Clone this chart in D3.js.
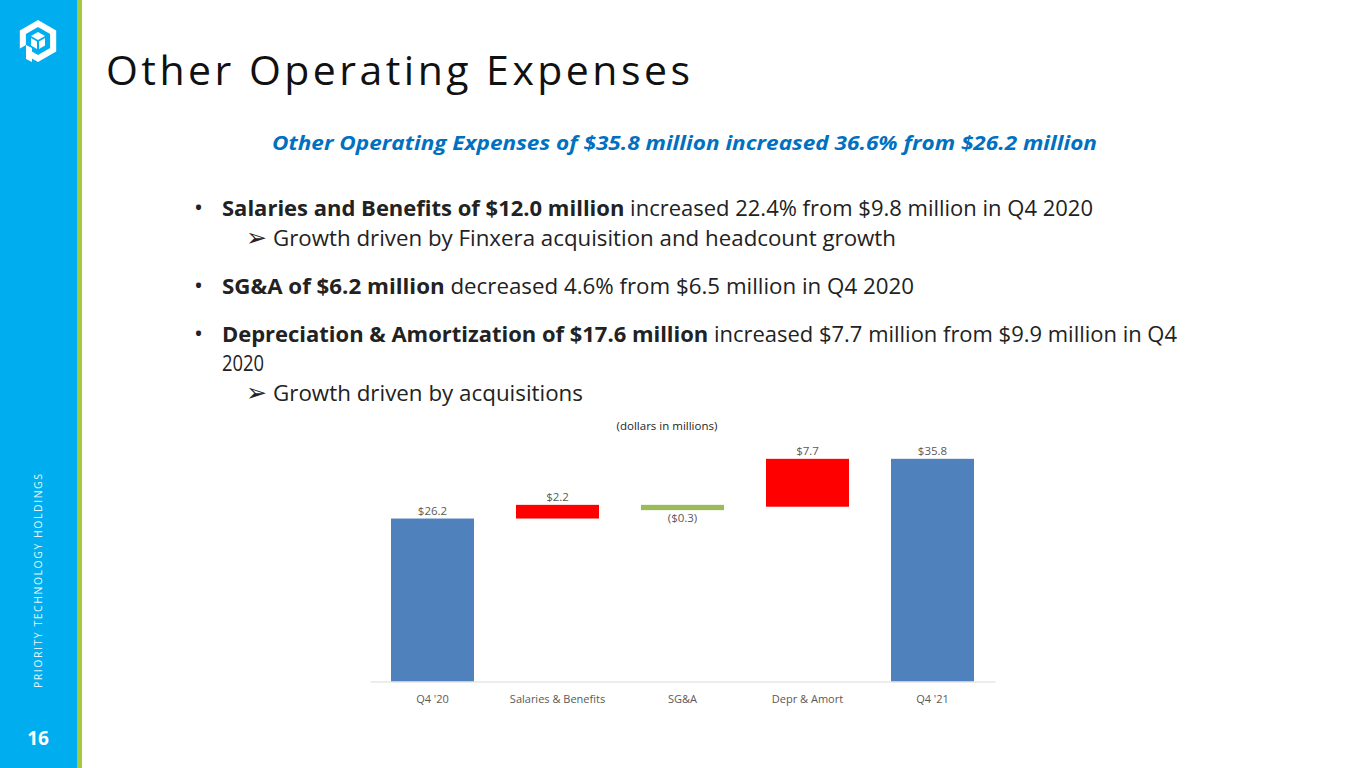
<!DOCTYPE html>
<html>
<head>
<meta charset="utf-8">
<script src="https://cdn.jsdelivr.net/npm/d3@7/dist/d3.min.js"></script>
<style>
  html, body { margin: 0; padding: 0; background: #fff; }
  svg { display: block; }
</style>
</head>
<body>
<svg id="slide" width="1365" height="768"></svg>
<script>
// ---- Data ----
const categories = ["Q4 '20", "Salaries & Benefits", "SG&A", "Depr & Amort", "Q4 '21"];
const values = [26.2, 2.2, -0.3, 7.7, 35.8];
const kinds = ["total", "increase", "decrease", "increase", "total"];
const valueLabels = ["$26.2", "$2.2", "($0.3)", "$7.7", "$35.8"];

const titleText = "Other Operating Expenses";
const subtitleText = "Other Operating Expenses of $35.8 million increased 36.6% from $26.2 million";
const unitText = "(dollars in millions)";
const sideText = "PRIORITY TECHNOLOGY HOLDINGS";
const pageNumber = "16";

// bullet lines: [type, segments[[text,bold]]]
const bulletLines = [
  ["bullet", [["Salaries and Benefits of $12.0 million", true], [" increased 22.4% from $9.8 million in Q4 2020", false]]],
  ["arrow", [["Growth driven by Finxera acquisition and headcount growth", false]]],
  ["bullet", [["SG&A of $6.2 million", true], [" decreased 4.6% from $6.5 million in Q4 2020", false]]],
  ["bullet", [["Depreciation & Amortization of $17.6 million", true], [" increased $7.7 million from $9.9 million in Q4", false]]],
  ["cont", [["2020", false]]],
  ["arrow", [["Growth driven by acquisitions", false]]]
];

// ---- Layout ----
const svg = d3.select("#slide");
const FONT = "'Open Sans', 'Noto Sans', sans-serif";

// sidebar
svg.append("rect").attr("x", 0).attr("y", 0).attr("width", 77).attr("height", 768).attr("fill", "#00AEEF");
svg.append("rect").attr("x", 77).attr("y", 0).attr("width", 5).attr("height", 768).attr("fill", "#A6C83C");

// logo
const logo = svg.append("g").attr("transform", "translate(38,41)");
function hexPath(r) {
  const pts = d3.range(6).map(i => {
    const a = Math.PI / 180 * (60 * i - 90);
    return [r * Math.cos(a), r * Math.sin(a)];
  });
  return "M" + pts.map(p => p.join(",")).join("L") + "Z";
}
logo.append("path").attr("d", hexPath(21) + hexPath(14)).attr("fill", "#fff").attr("fill-rule", "evenodd");
logo.append("path").attr("d", "M-19,8 L-12,4 L-12,22 L-19,22 Z").attr("fill", "#00AEEF");
logo.append("path").attr("d", "M-12,4 L-6,7 L-6,21 L-12,18 Z").attr("fill", "#fff");
logo.append("path").attr("d", "M0,-9 L7,-5 L0,-1 L-7,-5 Z").attr("fill", "#fff");
logo.append("path").attr("d", "M-7,-3 L-1,0.5 L-1,8 L-7,4.5 Z").attr("fill", "#fff");
logo.append("path").attr("d", "M7,-3 L1,0.5 L1,8 L7,4.5 Z").attr("fill", "#fff");

// side vertical text
svg.append("text")
  .attr("transform", "translate(42,581) rotate(-90)")
  .attr("text-anchor", "middle")
  .attr("font-family", FONT).attr("font-size", 10.5)
  .attr("fill", "#E6F6FD")
  .attr("textLength", 214).attr("lengthAdjust", "spacing")
  .text(sideText);

svg.append("text")
  .attr("x", 38).attr("y", 745)
  .attr("text-anchor", "middle")
  .attr("font-family", FONT).attr("font-size", 19).attr("font-weight", "bold")
  .attr("fill", "#fff")
  .text(pageNumber);

// title
svg.append("text")
  .attr("x", 106).attr("y", 85)
  .attr("font-family", FONT).attr("font-size", 41)
  .attr("fill", "#111")
  .attr("textLength", 584).attr("lengthAdjust", "spacing")
  .text(titleText);

// subtitle
svg.append("text")
  .attr("x", 272).attr("y", 150)
  .attr("font-family", FONT).attr("font-size", 19.5)
  .attr("font-weight", "bold").attr("font-style", "italic")
  .attr("fill", "#0070C0")
  .attr("textLength", 825).attr("lengthAdjust", "spacingAndGlyphs")
  .text(subtitleText);

// bullets
const lineBaselines = [216, 246, 294, 342, 371, 401];
const lineWidths = [871, 623, 692, 955, 42, 310];
bulletLines.forEach((ln, i) => {
  const [type, segs] = ln;
  const y = lineBaselines[i];
  const x = type === "arrow" ? 273 : 222;
  if (type === "bullet") {
    svg.append("text").attr("x", 194).attr("y", y)
      .attr("font-family", FONT).attr("font-size", 24).attr("fill", "#222").text("•");
  }
  if (type === "arrow") {
    svg.append("text").attr("x", 246).attr("y", y)
      .attr("font-family", "'DejaVu Sans', sans-serif").attr("font-size", 25).attr("fill", "#222").text("➢");
  }
  const t = svg.append("text").attr("x", x).attr("y", y)
    .attr("font-family", FONT).attr("font-size", 21).attr("fill", "#222")
    .attr("textLength", lineWidths[i]).attr("lengthAdjust", "spacingAndGlyphs");
  segs.forEach(([s, b]) => {
    t.append("tspan").attr("font-weight", b ? "bold" : "normal").text(s);
  });
});

// ---- Waterfall chart ----
let running = 0;
const bars = categories.map((c, i) => {
  let start, end;
  if (kinds[i] === "total") { start = 0; end = values[i]; running = values[i]; }
  else { start = running; end = running + values[i]; running = end; }
  return { cat: c, start, end, kind: kinds[i], label: valueLabels[i] };
});

const x = d3.scaleBand().domain(categories).range([370, 995]).paddingInner(0.336).paddingOuter(0.168);
const y = d3.scaleLinear().domain([0, 40]).range([681.5, 681.5 - 40 * 6.22]);
const colors = { total: "#4F81BD", increase: "#FF0000", decrease: "#9BBB59" };

const chart = svg.append("g");
chart.selectAll("rect.bar").data(bars).enter().append("rect")
  .attr("class", "bar")
  .attr("x", d => x(d.cat))
  .attr("width", x.bandwidth())
  .attr("y", d => y(Math.max(d.start, d.end)))
  .attr("height", d => Math.max(Math.abs(y(d.start) - y(d.end)), d.kind === "decrease" ? 5.3 : 0))
  .attr("fill", d => colors[d.kind]);

// axis
const axis = d3.axisBottom(x).tickSize(0).tickPadding(14);
const ax = chart.append("g").attr("transform", `translate(0,${y(0)})`).call(axis);
ax.select(".domain").attr("stroke", "#D9D9D9").attr("stroke-width", 1.2);
ax.selectAll(".tick text").attr("font-family", FONT).attr("font-size", 11).attr("fill", "#595959");

// value labels
chart.selectAll("text.vl").data(bars).enter().append("text")
  .attr("class", "vl")
  .attr("x", d => x(d.cat) + x.bandwidth() / 2)
  .attr("y", d => d.kind === "decrease"
    ? y(Math.max(d.start, d.end)) + 5.3 + 12
    : y(Math.max(d.start, d.end)) - 3.5)
  .attr("text-anchor", "middle")
  .attr("font-family", FONT).attr("font-size", 11.5).attr("fill", "#595959")
  .text(d => d.label);

// unit label
svg.append("text")
  .attr("x", 667).attr("y", 430)
  .attr("text-anchor", "middle")
  .attr("font-family", FONT).attr("font-size", 11.5).attr("fill", "#262626")
  .text(unitText);
</script>
</body>
</html>
